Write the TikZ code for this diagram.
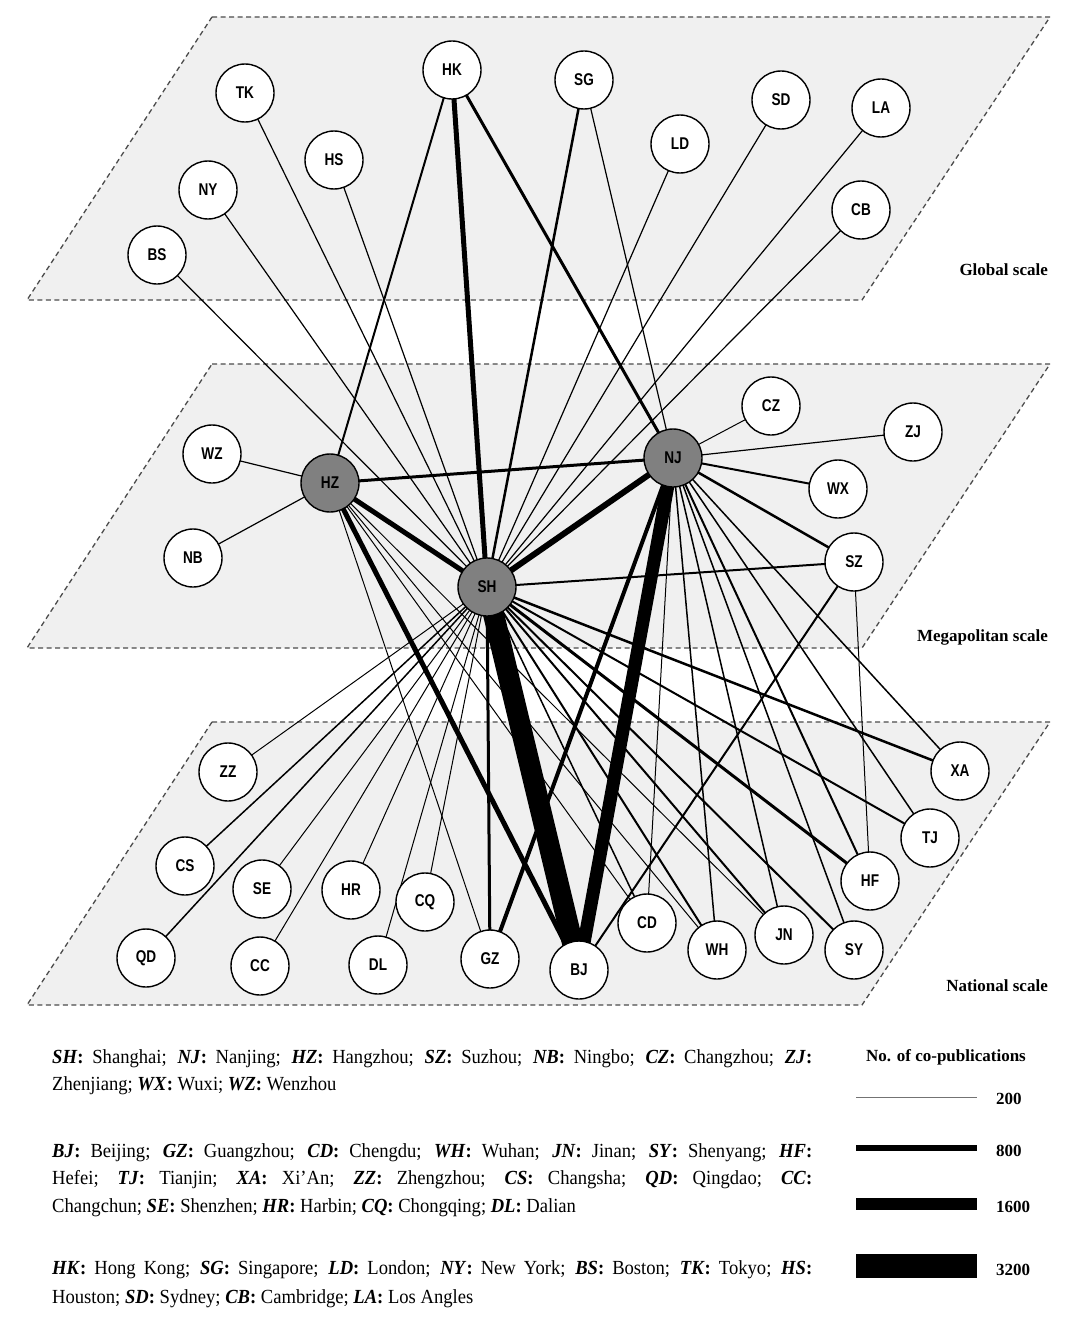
\documentclass[tikz,border=0pt]{standalone}
\usepackage{fontspec}
\setmainfont{Liberation Serif}
\newfontfamily\nodefont[FakeStretch=0.8]{Liberation Sans}
\newfontfamily\legfont[FakeStretch=0.93]{Liberation Serif}
\pgfdeclarelayer{planes}
\pgfdeclarelayer{edges}
\pgfsetlayers{planes,edges,main}
\definecolor{planefill}{gray}{0.94}
\definecolor{hubfill}{gray}{0.5}
\definecolor{dashcol}{gray}{0.3}
\newcommand\cty[1]{\textbf{\textit{#1}:}}
\tikzset{
  city/.style={circle, draw=black, line width=1.4pt, fill=white, minimum size=58pt,
    inner sep=0pt, font=\nodefont\bfseries\fontsize{17}{17}\selectfont},
  hub/.style={city, fill=hubfill},
  plane/.style={fill=planefill, draw=dashcol, dash pattern=on 5pt off 3.5pt, line width=1.3pt},
  lnk/.style={line width=#1, draw=black},
  lnk/.default=1.2pt,
  scalelab/.style={font=\bfseries\fontsize{17}{17}\selectfont, anchor=east, inner sep=0pt},
  legline/.style={anchor=base west, inner sep=0pt, font=\legfont\fontsize{20}{20}\selectfont},
  legtitle/.style={inner sep=0pt, font=\bfseries\fontsize{17}{17}\selectfont},
  legnum/.style={anchor=west, inner sep=0pt, font=\bfseries\fontsize{17}{17}\selectfont},
}
\begin{document}
\begin{tikzpicture}[x=1pt, y=-1pt]
\useasboundingbox (0,0) rectangle (1080,1335);

% planes
\begin{pgfonlayer}{planes}
\fill[white] (0,0) rectangle (1080,1335);
\draw[plane] (212,17) -- (1050,17) -- (862,300) -- (27,300) -- cycle;
\draw[plane] (212,364) -- (1050,364) -- (862,648) -- (27,648) -- cycle;
\draw[plane] (212,722) -- (1050,722) -- (862,1005) -- (27,1005) -- cycle;
\end{pgfonlayer}

\node[scalelab] (lglobal) at (1048,270) {Global scale};
\node[scalelab] (lmega) at (1048,637) {Megapolitan scale};
\node[scalelab] (lnat) at (1048,986) {National scale};

% global nodes
\node[city] (HK) at (452,70) {HK};
\node[city] (TK) at (245,93) {TK};
\node[city] (SG) at (584,80) {SG};
\node[city] (SD) at (781,100) {SD};
\node[city] (LA) at (881,108) {LA};
\node[city] (LD) at (680,144) {LD};
\node[city] (HS) at (334,160) {HS};
\node[city] (NY) at (208,190) {NY};
\node[city] (CB) at (861,210) {CB};
\node[city] (BS) at (157,255) {BS};

% megapolitan nodes
\node[city] (WZ) at (212,454) {WZ};
\node[hub]  (HZ) at (330,483) {HZ};
\node[city] (NB) at (193,558) {NB};
\node[hub]  (NJ) at (673,458) {NJ};
\node[city] (CZ) at (771,406) {CZ};
\node[city] (ZJ) at (913,432) {ZJ};
\node[city] (WX) at (838,489) {WX};
\node[city] (SZ) at (854,562) {SZ};
\node[hub]  (SH) at (487,587) {SH};

% national nodes
\node[city] (ZZ) at (228,772) {ZZ};
\node[city] (XA) at (960,771) {XA};
\node[city] (CS) at (185,866) {CS};
\node[city] (TJ) at (930,838) {TJ};
\node[city] (SE) at (262,889) {SE};
\node[city] (HR) at (351,890) {HR};
\node[city] (CQ) at (425,902) {CQ};
\node[city] (HF) at (870,881) {HF};
\node[city] (QD) at (146,958) {QD};
\node[city] (CC) at (260,966) {CC};
\node[city] (DL) at (378,965) {DL};
\node[city] (GZ) at (490,959) {GZ};
\node[city] (BJ) at (579,970) {BJ};
\node[city] (CD) at (647,923) {CD};
\node[city] (WH) at (717,950) {WH};
\node[city] (JN) at (784,935) {JN};
\node[city] (SY) at (854,950) {SY};

% connectors
\begin{pgfonlayer}{edges}
% global
\draw[lnk=5pt] (HK.center) -- (SH.center);
\draw[lnk=2pt] (HK.center) -- (HZ.center);
\draw[lnk=3pt] (HK.center) -- (NJ.center);
\draw[lnk=2.5pt] (SG.center) -- (SH.center);
\draw[lnk] (SG.center) -- (NJ.center);
\foreach \g in {TK,HS,NY,BS,LD,SD,LA,CB}
  \draw[lnk] (\g.center) -- (SH.center);
% megapolitan
\draw[lnk] (WZ.center) -- (HZ.center);
\draw[lnk] (NB.center) -- (HZ.center);
\draw[lnk=3pt] (HZ.center) -- (NJ.center);
\draw[lnk=5pt] (HZ.center) -- (SH.center);
\draw[lnk=6pt] (NJ.center) -- (SH.center);
\draw[lnk=1pt] (NJ.center) -- (CZ.center);
\draw[lnk] (NJ.center) -- (ZJ.center);
\draw[lnk=2pt] (NJ.center) -- (WX.center);
\draw[lnk=2.5pt] (NJ.center) -- (SZ.center);
\draw[lnk=2pt] (SH.center) -- (SZ.center);
\draw[lnk=1pt] (SZ.center) -- (HF.center);
\draw[lnk=2pt] (SZ.center) -- (BJ.center);
% national
\draw[lnk=21pt] (SH.center) -- (BJ.center);
\draw[lnk=13pt] (NJ.center) -- (BJ.center);
\draw[lnk=5pt] (HZ.center) -- (BJ.center);
\draw[lnk=3pt] (SH.center) -- (GZ.center);
\draw[lnk=4pt] (NJ.center) -- (GZ.center);
\draw[lnk=1pt] (HZ.center) -- (GZ.center);
\foreach \n in {ZZ,SE,CC,HR,DL,CQ}
  \draw[lnk=1pt] (SH.center) -- (\n.center);
\foreach \n in {CS,QD}
  \draw[lnk=1.5pt] (SH.center) -- (\n.center);
\draw[lnk=2.5pt] (SH.center) -- (XA.center);
\draw[lnk=2pt] (SH.center) -- (TJ.center);
\draw[lnk=3pt] (SH.center) -- (HF.center);
\draw[lnk=2pt] (SH.center) -- (SY.center);
\draw[lnk=2pt] (SH.center) -- (JN.center);
\draw[lnk=2pt] (SH.center) -- (WH.center);
\draw[lnk=1.5pt] (SH.center) -- (CD.center);
\draw[lnk=1.5pt] (NJ.center) -- (XA.center);
\draw[lnk=1.5pt] (NJ.center) -- (TJ.center);
\draw[lnk=2pt] (NJ.center) -- (HF.center);
\draw[lnk=1.5pt] (NJ.center) -- (SY.center);
\draw[lnk=1.5pt] (NJ.center) -- (JN.center);
\draw[lnk=1.5pt] (NJ.center) -- (WH.center);
\draw[lnk=1pt] (NJ.center) -- (CD.center);
\draw[lnk=1pt] (HZ.center) -- (CD.center);
\draw[lnk=1pt] (HZ.center) -- (WH.center);
\draw[lnk=1pt] (HZ.center) -- (JN.center);
\end{pgfonlayer}

% legend text
\node[legline] (t1) at (52,1063) {\makebox[760pt][s]{\cty{SH} Shanghai; \cty{NJ} Nanjing; \cty{HZ} Hangzhou; \cty{SZ} Suzhou; \cty{NB} Ningbo; \cty{CZ} Changzhou; \cty{ZJ}}};
\node[legline] (t2) at (52,1090) {Zhenjiang; \cty{WX} Wuxi; \cty{WZ} Wenzhou};
\node[legline] (t3) at (52,1157) {\makebox[760pt][s]{\cty{BJ} Beijing; \cty{GZ} Guangzhou; \cty{CD} Chengdu; \cty{WH} Wuhan; \cty{JN} Jinan; \cty{SY} Shenyang; \cty{HF}}};
\node[legline] (t4) at (52,1184) {\makebox[760pt][s]{Hefei; \cty{TJ} Tianjin; \cty{XA} Xi’An; \cty{ZZ} Zhengzhou; \cty{CS} Changsha; \cty{QD} Qingdao; \cty{CC}}};
\node[legline] (t5) at (52,1212) {Changchun; \cty{SE} Shenzhen; \cty{HR} Harbin; \cty{CQ} Chongqing; \cty{DL} Dalian};
\node[legline] (t6) at (52,1274) {\makebox[760pt][s]{\cty{HK} Hong Kong; \cty{SG} Singapore; \cty{LD} London; \cty{NY} New York; \cty{BS} Boston; \cty{TK} Tokyo; \cty{HS}}};
\node[legline] (t7) at (52,1303) {Houston; \cty{SD} Sydney; \cty{CB} Cambridge; \cty{LA} Los Angles};

% width legend
\node[legtitle] (ltitle) at (946,1057) {No. of co-publications};
\coordinate (w1a) at (856,1097); \coordinate (w1b) at (977,1097);
\coordinate (w2a) at (856,1148); \coordinate (w2b) at (977,1148);
\coordinate (w3a) at (856,1204); \coordinate (w3b) at (977,1204);
\coordinate (w4a) at (856,1266); \coordinate (w4b) at (977,1266);
\draw[line width=1pt, draw=black!55] (w1a) -- (w1b);
\draw[line width=6pt] (w2a) -- (w2b);
\draw[line width=12pt] (w3a) -- (w3b);
\draw[line width=24pt] (w4a) -- (w4b);
\node[legnum] (n1) at (996,1099) {200};
\node[legnum] (n2) at (996,1151) {800};
\node[legnum] (n3) at (996,1207) {1600};
\node[legnum] (n4) at (996,1270) {3200};
\end{tikzpicture}
\end{document}
